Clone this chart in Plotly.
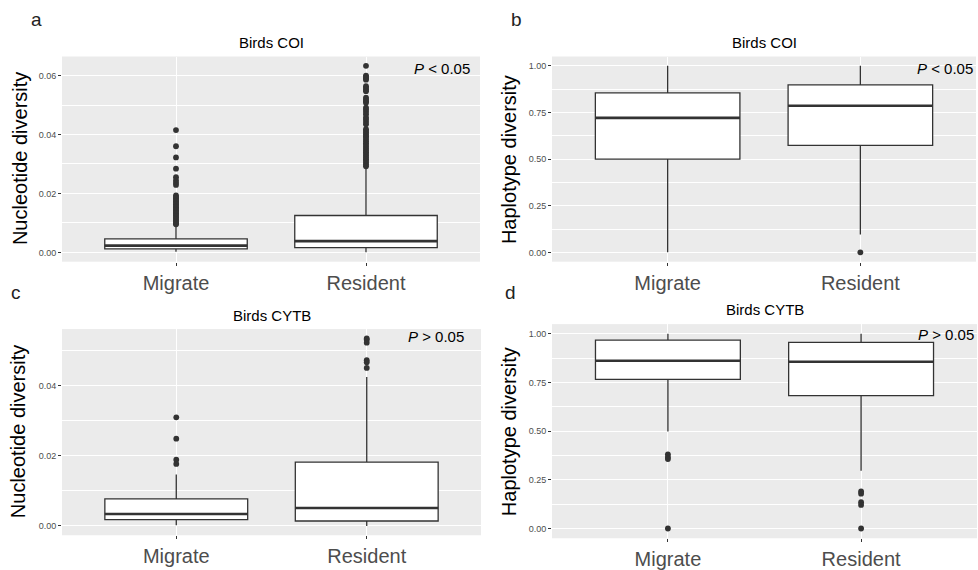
import plotly.graph_objects as go

# ---------------- data ----------------
groups = ["Migrate", "Resident"]

# Panel a: Birds COI, nucleotide diversity
a_lower = [0.0002, 0.0]
a_q1 = [0.0012, 0.0016]
a_median = [0.0023, 0.0038]
a_q3 = [0.0046, 0.0125]
a_upper = [0.0092, 0.0287]
a_out_migrate = [0.0415, 0.0360, 0.0322, 0.0284, 0.0255, 0.0244, 0.0236, 0.0229,
                 0.0193, 0.0188, 0.0183, 0.0178, 0.0173, 0.0168, 0.0163, 0.0158,
                 0.0153, 0.0148, 0.0143, 0.0138, 0.0133, 0.0128, 0.0123, 0.0118,
                 0.0113, 0.0108, 0.0103, 0.0098, 0.0095]
a_out_resident = [0.0633, 0.0600, 0.0595, 0.0590, 0.0586, 0.0564, 0.0558, 0.0552,
                  0.0547, 0.0525, 0.0519, 0.0513, 0.0508, 0.0491, 0.0484, 0.0477,
                  0.0469, 0.0458, 0.0451, 0.0443, 0.0435, 0.0418, 0.0412, 0.0406,
                  0.0400, 0.0394, 0.0388, 0.0382, 0.0376, 0.0370, 0.0364, 0.0358,
                  0.0352, 0.0346, 0.0340, 0.0334, 0.0328, 0.0322, 0.0316, 0.0310,
                  0.0304, 0.0298, 0.0292]

# Panel b: Birds COI, haplotype diversity
b_lower = [0.0, 0.0955]
b_q1 = [0.500, 0.574]
b_median = [0.721, 0.786]
b_q3 = [0.855, 0.898]
b_upper = [1.0, 1.0]
b_out_migrate = []
b_out_resident = [0.0]

# Panel c: Birds CYTB, nucleotide diversity
c_lower = [0.0002, 0.0]
c_q1 = [0.0018, 0.0014]
c_median = [0.0034, 0.0051]
c_q3 = [0.0077, 0.0182]
c_upper = [0.0147, 0.0425]
c_out_migrate = [0.0310, 0.0249, 0.0189, 0.0177]
c_out_resident = [0.0535, 0.0531, 0.0523, 0.0473, 0.0467, 0.0451]

# Panel d: Birds CYTB, haplotype diversity
d_lower = [0.499, 0.297]
d_q1 = [0.766, 0.683]
d_median = [0.862, 0.857]
d_q3 = [0.968, 0.956]
d_upper = [1.0, 1.0]
d_out_migrate = [0.381, 0.367, 0.357, 0.0]
d_out_resident = [0.190, 0.179, 0.135, 0.121, 0.0]

titles = ["Birds COI", "Birds COI", "Birds CYTB", "Birds CYTB"]
ytitles = ["Nucleotide diversity", "Haplotype diversity",
           "Nucleotide diversity", "Haplotype diversity"]
letters = ["a", "b", "c", "d"]
pvals = ["<i>P</i> < 0.05", "<i>P</i> < 0.05", "<i>P</i> > 0.05", "<i>P</i> > 0.05"]
ydticks = [0.02, 0.25, 0.02, 0.25]

panels = [
    (a_lower, a_q1, a_median, a_q3, a_upper, [a_out_migrate, a_out_resident]),
    (b_lower, b_q1, b_median, b_q3, b_upper, [b_out_migrate, b_out_resident]),
    (c_lower, c_q1, c_median, c_q3, c_upper, [c_out_migrate, c_out_resident]),
    (d_lower, d_q1, d_median, d_q3, d_upper, [d_out_migrate, d_out_resident]),
]

# ---------------- layout geometry (pixels) ----------------
W, H = 978, 570
# plot areas: (left, right, top, bottom)
areas = [(62, 480, 57, 264), (552, 976, 57, 264),
         (62, 481, 332, 540), (552, 977, 327, 543)]
title_y = [43, 43, 318, 312]
letter_pos = [(36, 20), (516, 20), (16, 295), (510, 295)]
ytitle_x = [20, 509, 18, 509]
p_pos = [(472, 69), (975, 69), (466, 339), (976, 337)]

BOX_W = 0.75
LINE = "#333333"
FONT = "Liberation Sans, Arial, sans-serif"

fig = go.Figure()
layout = dict(
    width=W, height=H, margin=dict(l=0, r=0, t=0, b=0),
    paper_bgcolor="white", plot_bgcolor="#EBEBEB", showlegend=False,
    font=dict(family=FONT),
)
annotations = []
positions = list(range(len(groups)))

for i, (lo, q1, med, q3, up, outs) in enumerate(panels):
    xa = "x" if i == 0 else f"x{i+1}"
    ya = "y" if i == 0 else f"y{i+1}"
    for j, g in enumerate(groups):
        fig.add_trace(go.Box(
            x=[positions[j]], q1=[q1[j]], median=[med[j]], q3=[q3[j]],
            lowerfence=[lo[j]], upperfence=[up[j]],
            width=BOX_W, whiskerwidth=0, boxpoints=False,
            fillcolor="white", line=dict(color=LINE, width=1.3),
            xaxis=xa, yaxis=ya, hoverinfo="skip",
        ))
        # heavier median bar
        fig.add_trace(go.Scatter(
            x=[positions[j] - BOX_W / 2, positions[j] + BOX_W / 2],
            y=[med[j], med[j]], mode="lines",
            line=dict(color=LINE, width=2.6), xaxis=xa, yaxis=ya,
            hoverinfo="skip",
        ))
        if outs[j]:
            fig.add_trace(go.Scatter(
                x=[positions[j]] * len(outs[j]), y=outs[j], mode="markers",
                marker=dict(color=LINE, size=5.8), xaxis=xa, yaxis=ya,
                hoverinfo="skip",
            ))

    # y range: data span expanded by 5% on each side
    vals = lo + up + [v for o in outs for v in o]
    vmin, vmax = min(vals), max(vals)
    span = vmax - vmin
    yr = [vmin - 0.05 * span, vmax + 0.05 * span]

    l, r, t, b = areas[i]
    xkey = "xaxis" if i == 0 else f"xaxis{i+1}"
    ykey = "yaxis" if i == 0 else f"yaxis{i+1}"
    layout[xkey] = dict(
        domain=[l / W, r / W], anchor=ya, range=[-0.6, 1.6],
        tickmode="array", tickvals=positions, ticktext=groups,
        showgrid=True, gridcolor="white", gridwidth=1.1, zeroline=False,
        ticks="outside", ticklen=3, tickwidth=1, tickcolor=LINE,
        tickfont=dict(size=20, color="#4D4D4D", family=FONT),
        showline=False, fixedrange=True,
    )
    layout[ykey] = dict(
        domain=[1 - b / H, 1 - t / H], anchor=xa, range=yr,
        tick0=0, dtick=ydticks[i], tickformat=".2f",
        showgrid=True, gridcolor="white", gridwidth=1.1, zeroline=False,
        minor=dict(dtick=ydticks[i] / 2, tick0=0, showgrid=True,
                   gridcolor="white", gridwidth=0.55, ticks=""),
        ticks="outside", ticklen=3, tickwidth=1, tickcolor=LINE,
        tickfont=dict(size=9, color="#4D4D4D", family=FONT),
        showline=False, fixedrange=True,
    )

    # panel title
    annotations.append(dict(
        text=titles[i], x=(l + r) / 2 / W, y=1 - title_y[i] / H,
        xref="paper", yref="paper", xanchor="center", yanchor="middle",
        showarrow=False, font=dict(size=15, color="black", family=FONT),
    ))
    # y axis title
    annotations.append(dict(
        text=ytitles[i], x=ytitle_x[i] / W, y=1 - (t + b) / 2 / H,
        xref="paper", yref="paper", xanchor="center", yanchor="middle",
        textangle=-90, showarrow=False,
        font=dict(size=20, color="black", family=FONT),
    ))
    # panel letter
    lx, ly = letter_pos[i]
    annotations.append(dict(
        text=letters[i], x=lx / W, y=1 - ly / H,
        xref="paper", yref="paper", xanchor="center", yanchor="middle",
        showarrow=False, font=dict(size=19, color="#222222", family=FONT),
    ))
    # significance label
    px, py = p_pos[i]
    annotations.append(dict(
        text=pvals[i], x=px / W, y=1 - py / H,
        xref="paper", yref="paper", xanchor="right", yanchor="middle",
        showarrow=False, font=dict(size=15, color="black", family=FONT),
    ))

layout["annotations"] = annotations
fig.update_layout(**layout)
fig.write_html("out.html")
